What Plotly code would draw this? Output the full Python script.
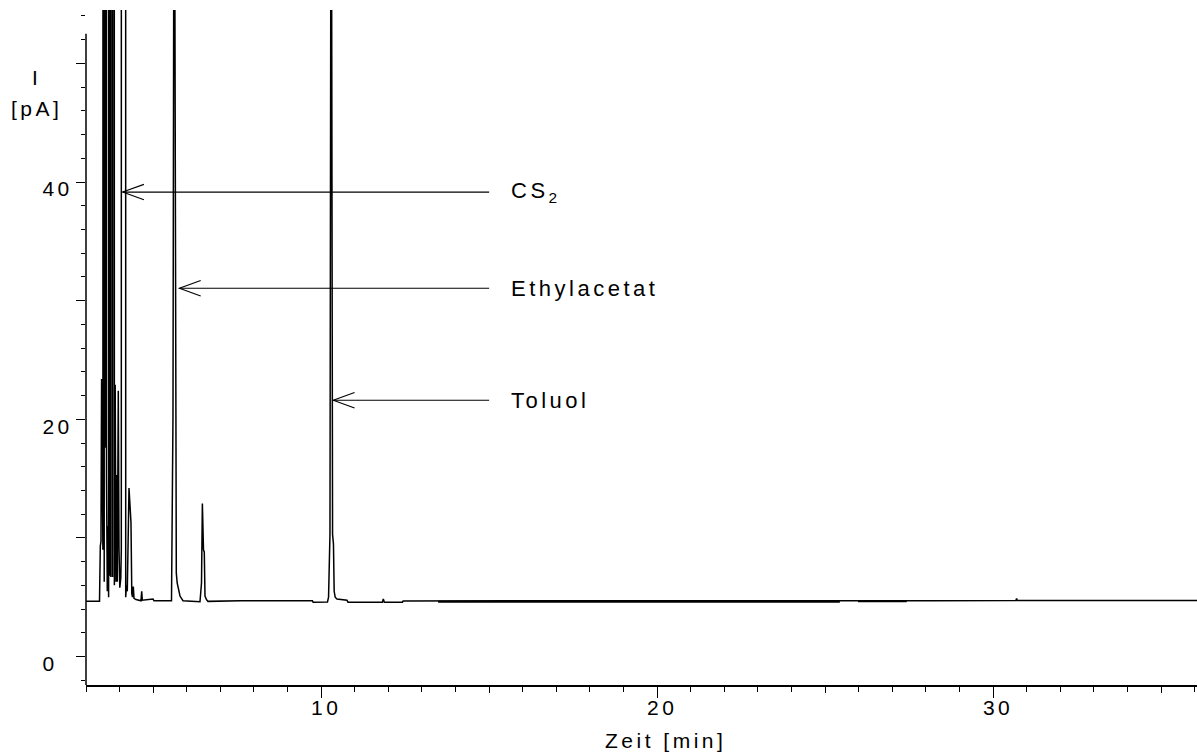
import plotly.graph_objects as go

# ---------------- data ----------------
time_min = [3.000, 3.402, 3.426, 3.446, 3.464, 3.482, 3.503, 3.524, 3.542, 3.560,
            3.580, 3.592, 3.610, 3.634, 3.655, 3.673, 3.696, 3.714, 3.726, 3.741,
            3.768, 3.792, 3.818, 3.845, 3.869, 3.893, 3.917, 3.932, 3.961, 3.982,
            4.006, 4.036, 4.051, 4.116, 4.182, 4.205, 4.229, 4.280, 4.318, 4.339,
            4.363, 4.384, 4.408, 4.429, 4.488, 4.637, 4.658, 4.676, 4.994, 5.024,
            5.545, 5.589, 5.625, 5.664, 5.688, 5.714, 5.753, 5.798, 5.842, 5.887,
            6.393, 6.411, 6.438, 6.464, 6.497, 6.521, 6.542, 6.586, 6.631, 7.600,
            9.740, 9.760, 10.188, 10.220, 10.241, 10.262, 10.298, 10.339, 10.366, 10.387,
            10.417, 10.470, 10.768, 10.798, 11.820, 11.850, 11.880, 12.420, 12.440, 13.480,
            25.440, 28.200, 30.680, 30.700, 30.720, 36.070]
signal_pA = [4.65, 4.65, 9.3, 9.7, 23.4, 10.5, 9.0, 800, 6.3, 700,
             17.6, 900, 15.1, 5.5, 11.0, 5.0, 600, 6.8, 35.4, 6.7,
             700, 6.7, 500, 6.0, 22.9, 6.3, 15.3, 6.3, 22.4, 9.2,
             5.8, 6.6, 9.0, 3000, 5.0, 6.0, 5.5, 14.2, 11.5, 11.3,
             5.3, 5.0, 5.9, 4.9, 4.8, 4.7, 5.5, 4.75, 4.85, 4.70,
             4.70, 20.2, 80, 18.7, 7.05, 6.2, 5.6, 5.1, 4.9, 4.7,
             4.62, 5.6, 6.2, 12.9, 9.0, 8.8, 5.1, 4.8, 4.65, 4.70,
             4.70, 4.58, 4.60, 5.0, 9.6, 10.3, 80, 10.3, 9.5, 5.5,
             5.0, 4.85, 4.75, 4.58, 4.58, 4.85, 4.58, 4.58, 4.69, 4.69,
             4.64, 4.70, 4.72, 4.9, 4.72, 4.73]

# noisy stretches of the baseline (drawn slightly heavier)
noise_time = [13.48, 25.44, None, 25.98, 27.43]
noise_pA = [4.62, 4.62, None, 4.66, 4.66]

# peak labels
compounds = ["CS<sub>2</sub>", "Ethylacetat", "Toluol"]
arrow_tip_time = [4.09, 5.78, 10.36]
arrow_level_pA = [39.15, 31.05, 21.6]
arrow_tail_time = 15.0
label_time = 15.58

# axes
x_range = [3.0, 36.07]
y_range = [-2.4, 54.5]
y_axis_top = 52.5
x_label_ticks = [10, 20, 30]
x_mid_ticks = [5, 15, 25, 35]
y_label_ticks = [0, 20, 40]
y_label_text = ["0\u2007", "20", "40"]
y_mid_ticks = [10, 30, 50]

FONT = "Liberation Sans, Arial, sans-serif"


def spaced(text, px):
    return f'<span style="letter-spacing:{px}px">{text}</span>'


fig = go.Figure()
fig.add_trace(go.Scatter(x=time_min, y=signal_pA, mode="lines",
                         line=dict(color="black", width=1.5), hoverinfo="skip",
                         showlegend=False))
fig.add_trace(go.Scatter(x=noise_time, y=noise_pA, mode="lines",
                         line=dict(color="black", width=2.0), hoverinfo="skip",
                         showlegend=False, connectgaps=False))
# helper trace for the overlay axes carrying the unlabelled medium ticks
fig.add_trace(go.Scatter(x=x_range, y=[None, None], xaxis="x2", yaxis="y2", mode="lines",
                         showlegend=False, hoverinfo="skip"))

shapes = []
# y-axis line (stops below the clipped peak tops)
shapes.append(dict(type="line", xref="paper", yref="y", x0=0, x1=0,
                   y0=y_range[0], y1=y_axis_top, line=dict(color="black", width=1.5)))

# arrows with open chevron heads
head_dt = 0.634
head_dv = 0.65
for tip, lvl in zip(arrow_tip_time, arrow_level_pA):
    shapes.append(dict(type="line", xref="x", yref="y", x0=tip, x1=arrow_tail_time,
                       y0=lvl, y1=lvl, line=dict(color="black", width=1.1)))
    shapes.append(dict(type="path", xref="x", yref="y",
                       path=f"M {tip + head_dt},{lvl + head_dv} L {tip},{lvl} L {tip + head_dt},{lvl - head_dv}",
                       line=dict(color="black", width=1.1)))

annotations = []
for name, lvl in zip(compounds, arrow_level_pA):
    annotations.append(dict(x=label_time, y=lvl, xref="x", yref="y", text=spaced(name, 3.5),
                            showarrow=False, xanchor="left", yanchor="middle",
                            font=dict(family=FONT, size=22, color="black")))

annotations.append(dict(x=(35 - 86) / 1111, y=(685 - 78) / 675, xref="paper", yref="paper",
                        text="I", showarrow=False, xanchor="center", yanchor="middle",
                        font=dict(family=FONT, size=21, color="black")))
annotations.append(dict(x=(37 - 86) / 1111, y=(685 - 108) / 675, xref="paper", yref="paper",
                        text=spaced("[pA]", 3.5), showarrow=False, xanchor="center", yanchor="middle",
                        font=dict(family=FONT, size=21, color="black")))
annotations.append(dict(x=(665.5 - 86) / 1111, y=(685 - 740) / 675, xref="paper", yref="paper",
                        text=spaced("Zeit [min]", 3.5), showarrow=False, xanchor="center",
                        yanchor="middle", font=dict(family=FONT, size=21, color="black")))

fig.update_layout(
    width=1197, height=754,
    margin=dict(l=86, r=0, t=10, b=69),
    paper_bgcolor="white", plot_bgcolor="white",
    font=dict(family=FONT, size=21, color="black"),
    shapes=shapes, annotations=annotations,
    xaxis=dict(range=x_range, showgrid=False, zeroline=False, showline=True,
               linecolor="black", linewidth=1.5,
               ticks="outside", ticklen=11, tickwidth=1.3, tickcolor="black",
               tickmode="array", tickvals=x_label_ticks,
               ticktext=[spaced(str(v), 3.5) for v in x_label_ticks],
               tickfont=dict(family=FONT, size=21, color="black"),
               ticklabelstandoff=-8, ticklabelshift=5,
               minor=dict(ticks="outside", dtick=1, tick0=0, ticklen=5.5, tickwidth=1.3,
                          tickcolor="black", showgrid=False)),
    xaxis2=dict(range=x_range, overlaying="x", anchor="y", side="bottom",
                showgrid=False, zeroline=False, showline=False,
                ticks="outside", ticklen=7, tickwidth=1.3, tickcolor="black",
                tickmode="array", tickvals=x_mid_ticks, showticklabels=False),
    yaxis=dict(range=y_range, showgrid=False, zeroline=False, showline=False,
               ticks="outside", ticklen=9, tickwidth=1.3, tickcolor="black",
               tickmode="array", tickvals=y_label_ticks,
               ticktext=[spaced(t, 3.5) for t in y_label_text],
               tickfont=dict(family=FONT, size=21, color="black"),
               ticklabelstandoff=-1, ticklabelshift=7,
               minor=dict(ticks="outside", dtick=2, tick0=0, ticklen=4.5, tickwidth=1.3,
                          tickcolor="black", showgrid=False)),
    yaxis2=dict(range=y_range, overlaying="y", anchor="x", side="left",
                showgrid=False, zeroline=False, showline=False,
                ticks="outside", ticklen=9, tickwidth=1.3, tickcolor="black",
                tickmode="array", tickvals=y_mid_ticks, showticklabels=False),
)

fig.write_html("out.html", config={"displayModeBar": False},
               post_script="document.body.style.margin='0';")
